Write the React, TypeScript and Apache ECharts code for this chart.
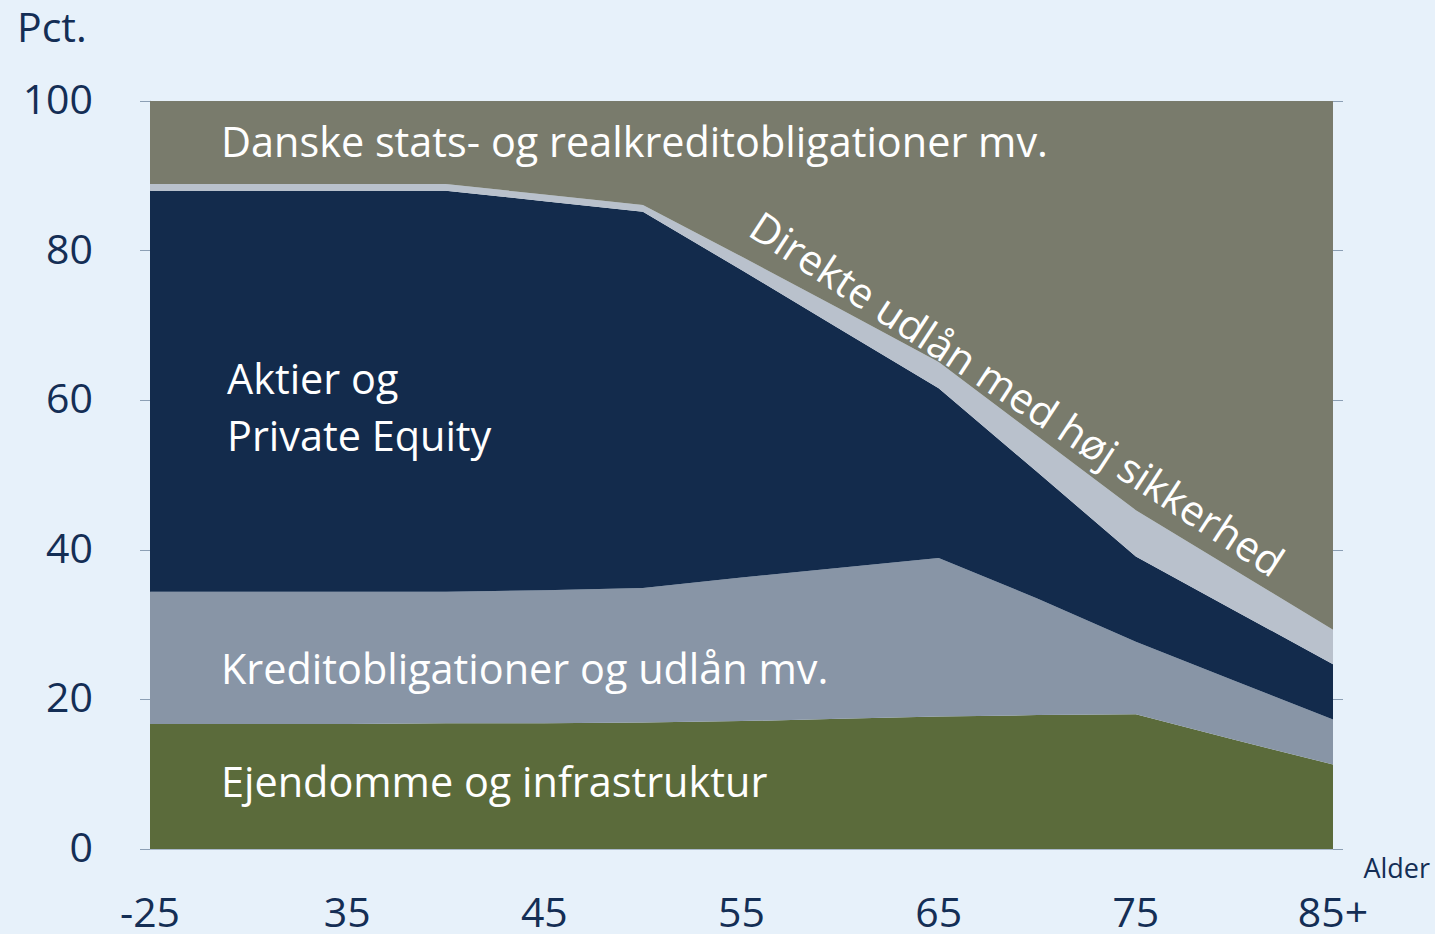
import React, { useEffect, useRef } from "react";
import * as echarts from "echarts";

const ages = ["-25", "30", "35", "40", "45", "50", "55", "60", "65", "70", "75", "80", "85+"];
const ejendomme = [16.7, 16.7, 16.7, 16.8, 16.8, 16.9, 17.1, 17.4, 17.7, 17.9, 18.0, 14.6, 11.3];
const kredit = [17.7, 17.7, 17.7, 17.6, 17.8, 18.0, 19.2, 20.2, 21.2, 15.6, 9.7, 7.9, 6.0];
const aktier = [53.6, 53.6, 53.6, 53.6, 52.0, 50.3, 41.1, 31.9, 22.7, 16.9, 11.4, 9.4, 7.4];
const direkte = [0.9, 0.9, 0.9, 0.9, 0.9, 0.9, 1.8, 2.7, 3.5, 4.8, 6.2, 5.4, 4.6];
const danske = [11.1, 11.1, 11.1, 11.1, 12.5, 13.9, 20.8, 27.8, 34.9, 44.8, 54.7, 62.7, 70.7];

const seriesNames = [
  "Ejendomme og infrastruktur",
  "Kreditobligationer og udlån mv.",
  "Aktier og Private Equity",
  "Direkte udlån med høj sikkerhed",
  "Danske stats- og realkreditobligationer mv.",
];
const seriesData = [ejendomme, kredit, aktier, direkte, danske];
const seriesColors = ["#5b6b3b", "#8895a6", "#132b4c", "#b9c1cc", "#797b6c"];

const FONT = "'Open Sans', sans-serif";
const NAVY = "#142e55";

export default function App() {
  const ref = useRef<HTMLDivElement>(null);
  useEffect(() => {
    if (!ref.current) return;
    const chart = echarts.init(ref.current, undefined, { renderer: "svg" });
    const txt = (text: string, x: number, y: number, extra: any = {}) => ({
      type: "text",
      x,
      y,
      silent: true,
      z: 100,
      style: {
        text,
        fill: "#ffffff",
        font: `41.4px ${FONT}`,
        textAlign: "left",
        textVerticalAlign: "middle",
        ...extra,
      },
    });
    chart.setOption({
      animation: false,
      backgroundColor: "#e7f1fa",
      grid: { left: 150, right: 102, top: 101, bottom: 85, containLabel: false },
      xAxis: {
        type: "category",
        data: ages,
        boundaryGap: false,
        axisLine: { show: true, lineStyle: { color: "#a9b8c9", width: 1 } },
        axisTick: { show: false },
        axisLabel: {
          interval: 1,
          color: NAVY,
          fontFamily: FONT,
          fontSize: 41,
          lineHeight: 30,
          margin: 47,
        },
        splitLine: { show: false },
      },
      yAxis: [
        {
          type: "value",
          min: 0,
          max: 100,
          interval: 20,
          axisLine: { show: true, lineStyle: { color: "#c4d0dc", width: 1 } },
          axisTick: { show: true, inside: false, length: 10, lineStyle: { color: "#8c9fb4" } },
          axisLabel: {
            margin: 57,
            formatter: (v: number) => `{a|${v}}`,
            rich: {
              a: {
                color: NAVY,
                fontFamily: FONT,
                fontSize: 41,
                lineHeight: 41,
                padding: [0, 0, 6, 0],
              },
            },
          },
          splitLine: { show: false },
        },
        {
          type: "value",
          position: "right",
          min: 0,
          max: 100,
          interval: 20,
          axisLine: { show: false },
          axisTick: { show: true, inside: false, length: 10, lineStyle: { color: "#8c9fb4" } },
          axisLabel: { show: false },
          splitLine: { show: false },
        },
      ],
      series: seriesData.map((d, i) => ({
        name: seriesNames[i],
        type: "line",
        stack: "total",
        data: d,
        symbol: "none",
        lineStyle: { width: 0 },
        areaStyle: { color: seriesColors[i], opacity: 1 },
        itemStyle: { color: seriesColors[i] },
        z: 2,
      })),
      graphic: [
        txt("Pct.", 17, 26, { fill: NAVY, font: `41px ${FONT}` }),
        txt("Alder", 1430, 867, { fill: NAVY, font: `27px ${FONT}`, textAlign: "right" }),
        txt("Danske stats- og realkreditobligationer mv.", 221, 141),
        txt("Aktier og", 227, 378),
        txt("Private Equity", 227, 435),
        txt("Kreditobligationer og udlån mv.", 221, 668),
        txt("Ejendomme og infrastruktur", 221, 781),
        {
          ...txt("Direkte udlån med høj sikkerhed", 755, 221),
          rotation: -0.58,
        },
      ],
    });
    return () => chart.dispose();
  }, []);
  return (
    <div
      ref={ref}
      style={{ position: "fixed", left: 0, top: 0, width: 1435, height: 934 }}
    />
  );
}
